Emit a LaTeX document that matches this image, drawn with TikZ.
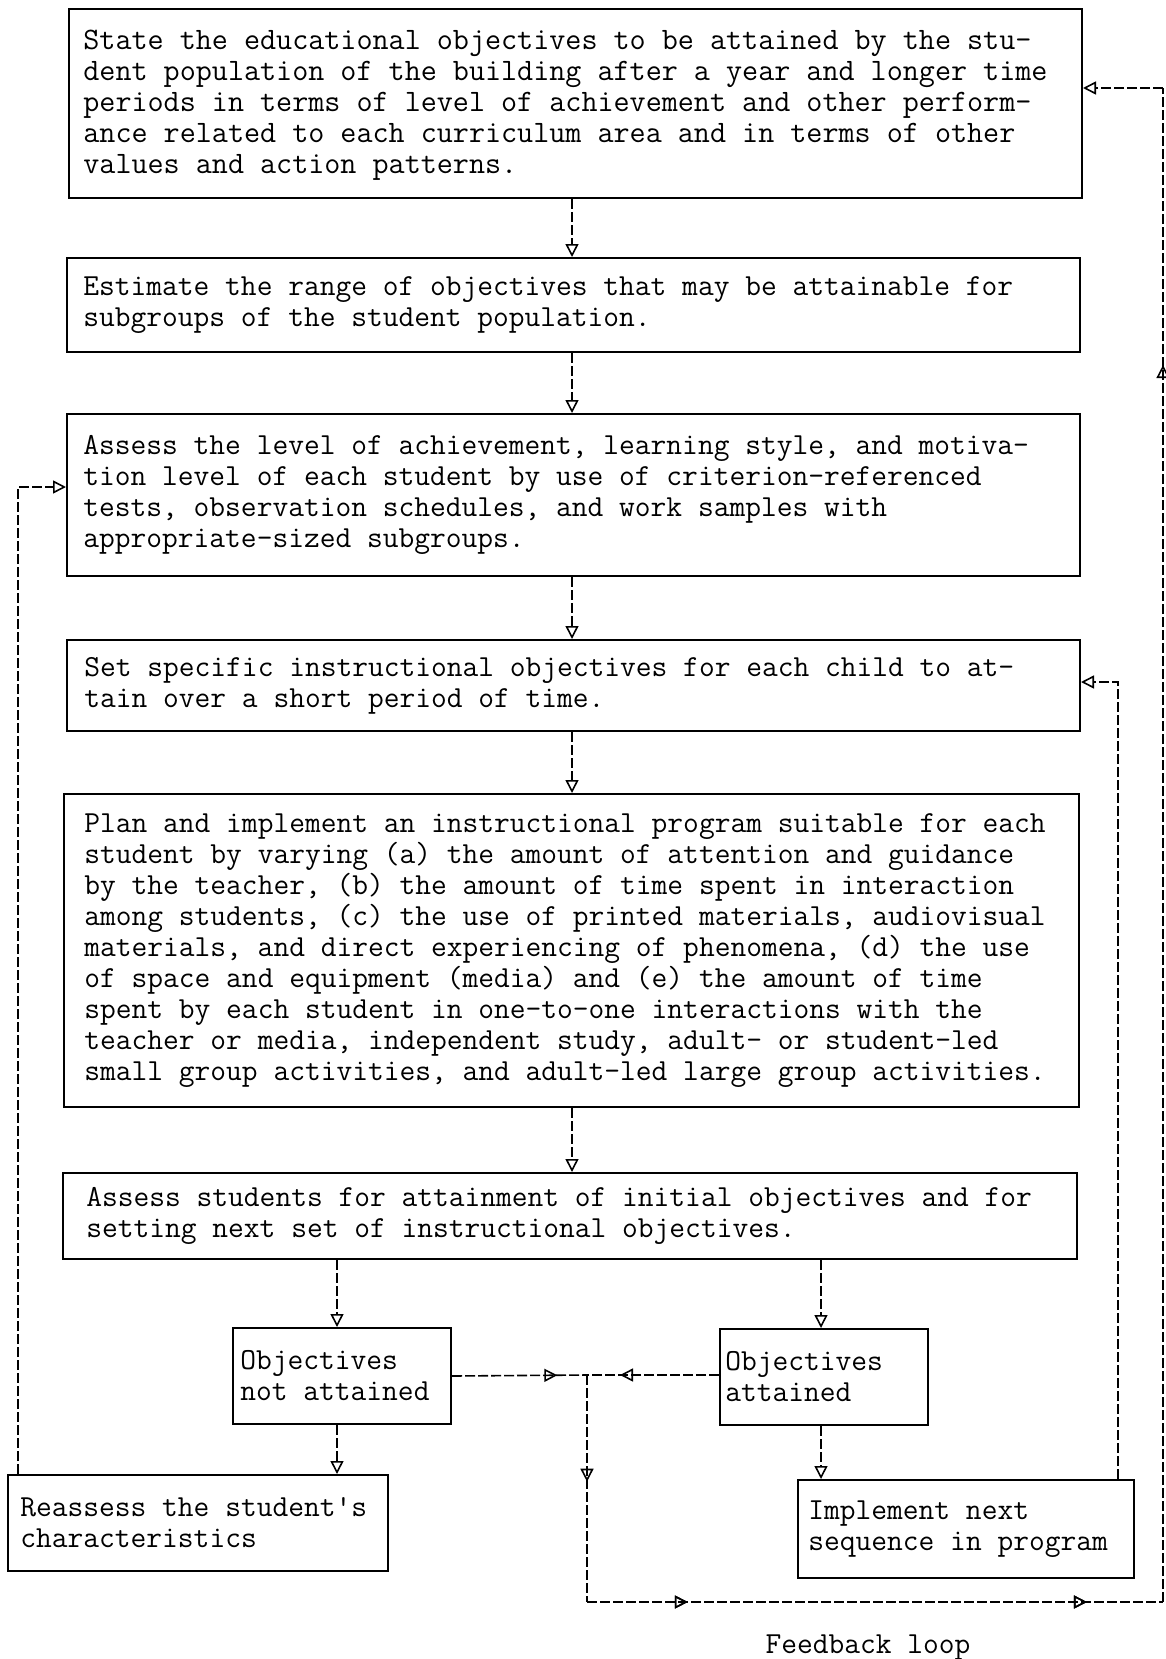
\documentclass[tikz,border=0pt]{standalone}
\usetikzlibrary{arrows.meta,decorations.markings}
\begin{document}
\begin{tikzpicture}[x=0.5pt,y=-0.5pt,
  boxa/.style={draw, line width=1pt, anchor=north west, inner sep=0pt, rectangle},
  txt/.style={anchor=west, inner sep=0pt, align=left, font=\ttfamily\fontsize{15.3}{15.5}\selectfont},
  txtb/.style={txt, font=\ttfamily\fontsize{15.6}{15.5}\selectfont},
  conn/.style={line width=0.8pt, dash pattern=on 5pt off 1.5pt},
  tip/.style={-{Triangle[open,length=6.5pt,width=6.5pt]}},
  midarrow/.style={postaction={decorate}, decoration={markings, mark=at position #1 with {\arrow{Triangle[open,length=6.5pt,width=6.5pt]}}}}
]
\useasboundingbox (0,0) rectangle (1166,1659);

% boxes
\node[boxa, minimum width=506.5pt, minimum height=94.5pt] (n1) at (68,8) {};
\node[boxa, minimum width=506.5pt, minimum height=47pt] (n2) at (66,257) {};
\node[boxa, minimum width=506.5pt, minimum height=81pt] (n3) at (66,413) {};
\node[boxa, minimum width=506.5pt, minimum height=45.5pt] (n4) at (66,639) {};
\node[boxa, minimum width=507.5pt, minimum height=156.5pt] (n5) at (63,793) {};
\node[boxa, minimum width=507pt, minimum height=43pt] (n6) at (62,1172) {};
\node[boxa, minimum width=109pt, minimum height=48pt] (n7) at (232,1327) {};
\node[boxa, minimum width=104pt, minimum height=48pt] (n8) at (719,1328) {};
\node[boxa, minimum width=190pt, minimum height=48pt] (n9) at (7,1474) {};
\node[boxa, minimum width=168pt, minimum height=49pt] (n10) at (797,1479) {};

% texts
\node[txtb] (t1) at ([xshift=7.5pt,yshift=-1pt]n1.west) {State the educational objectives to be attained by the stu-\\
dent population of the building after a year and longer time\\
periods in terms of level of achievement and other perform-\\
ance related to each curriculum area and in terms of other\\
values and action patterns.};
\node[txt] (t2) at ([xshift=8.5pt]n2.west) {Estimate the range of objectives that may be attainable for\\
subgroups of the student population.};
\node[txt] (t3) at ([xshift=8.5pt]n3.west) {Assess the level of achievement, learning style, and motiva-\\
tion level of each student by use of criterion-referenced\\
tests, observation schedules, and work samples with\\
appropriate-sized subgroups.};
\node[txt] (t4) at ([xshift=9pt]n4.west) {Set specific instructional objectives for each child to at-\\
tain over a short period of time.};
\node[txt] (t5) at ([xshift=10.5pt]n5.west) {Plan and implement an instructional program suitable for each\\
student by varying (a) the amount of attention and guidance\\
by the teacher, (b) the amount of time spent in interaction\\
among students, (c) the use of printed materials, audiovisual\\
materials, and direct experiencing of phenomena, (d) the use\\
of space and equipment (media) and (e) the amount of time\\
spent by each student in one-to-one interactions with the\\
teacher or media, independent study, adult- or student-led\\
small group activities, and adult-led large group activities.};
\node[txt] (t6) at ([xshift=12pt]n6.west) {Assess students for attainment of initial objectives and for\\
setting next set of instructional objectives.};
\node[txt] (t7) at ([xshift=4pt]n7.west) {Objectives\\not attained};
\node[txt] (t8) at ([xshift=3pt]n8.west) {Objectives\\attained};
\node[txt] (t9) at ([xshift=6.5pt]n9.west) {Reassess the student's\\characteristics};
\node[txt] (t10) at ([xshift=5.5pt]n10.west) {Implement next\\sequence in program};
\node[txt, anchor=center] (fb) at (868,1648) {Feedback loop};

% helper coordinates
\coordinate (cx) at (572,0);
\coordinate (lx) at (337,0);
\coordinate (rx) at (821,0);
\coordinate (J) at (587,1375);
\coordinate (B) at (587,1602);
\coordinate (C) at (1163,1602);
\coordinate (D) at (1163,88);
\coordinate (R1) at (1118,682);
\coordinate (L1) at (18,487);

% main flow
\draw[conn,tip] (n1.south -| cx) -- (n2.north -| cx);
\draw[conn,tip] (n2.south -| cx) -- (n3.north -| cx);
\draw[conn,tip] (n3.south -| cx) -- (n4.north -| cx);
\draw[conn,tip] (n4.south -| cx) -- (n5.north -| cx);
\draw[conn,tip] (n5.south -| cx) -- (n6.north -| cx);

% branches
\draw[conn,tip] (n6.south -| lx) -- (n7.north -| lx);
\draw[conn,tip] (n7.south -| lx) -- (n9.north -| lx);
\draw[conn,tip] (n6.south -| rx) -- (n8.north -| rx);
\draw[conn,tip] (n8.south -| rx) -- (n10.north -| rx);

% junction and feedback loop
\draw[conn,midarrow=0.78] (n7.east) -- (J);
\draw[conn,midarrow=0.75] (n8.west |- J) -- (J);
\draw[conn,midarrow=0.47] (J) -- (B);
\draw[conn,midarrow=0.175,midarrow=0.868] (B) -- (C);
\draw[conn,midarrow=0.817] (C) -- (D);
\draw[conn,tip] (D) -- (n1.east |- D);

% return loops
\draw[conn,tip] (n10.north -| R1) -- (R1) -- (n4.east |- R1);
\draw[conn,tip] (n9.north -| L1) -- (L1) -- (n3.west |- L1);
\end{tikzpicture}
\end{document}
